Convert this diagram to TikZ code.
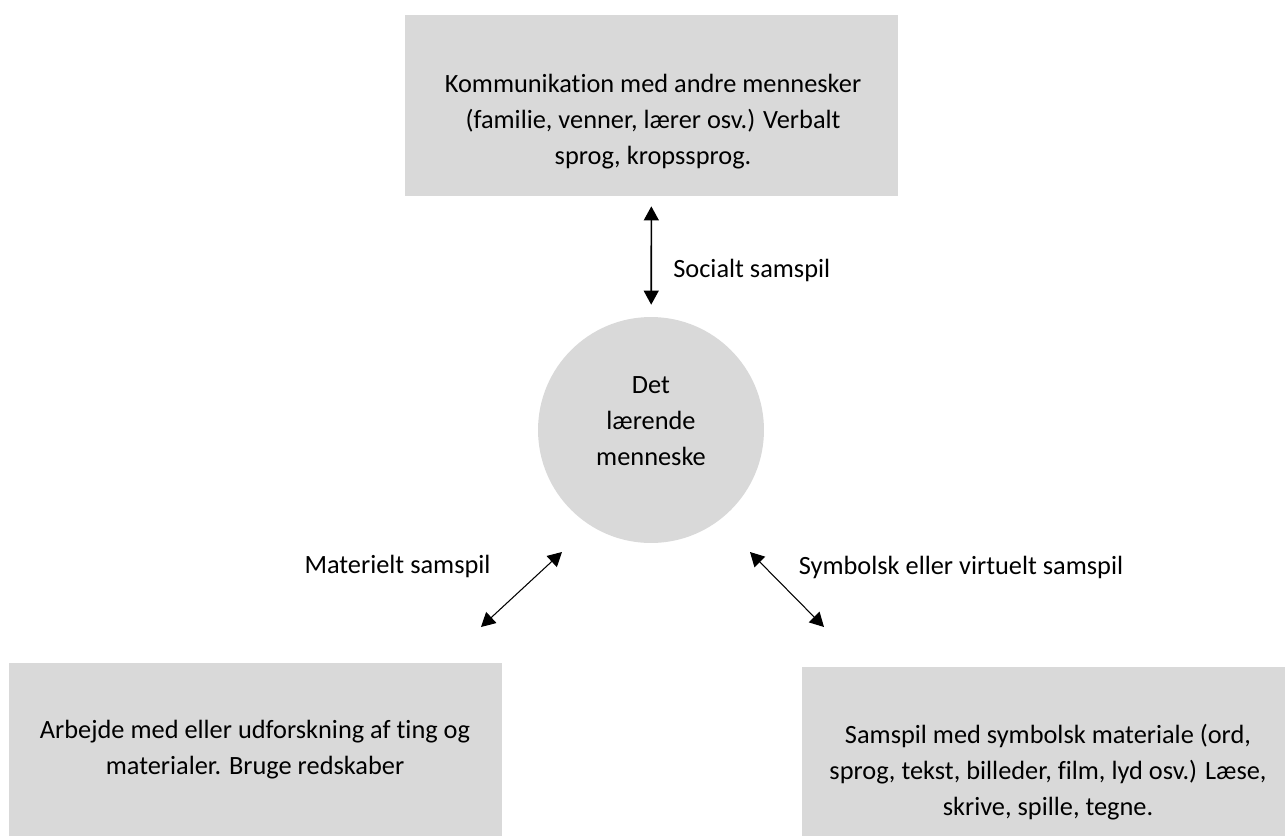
\documentclass[tikz,border=0pt]{standalone}
\usepackage{fontspec}
\setmainfont{Carlito}[Ligatures=CommonOff]
\usepackage{xcolor}
\usetikzlibrary{arrows.meta, positioning}
\definecolor{boxgray}{HTML}{D9D9D9}

\begin{document}
\begin{tikzpicture}[
    x=0.02cm, y=-0.02cm,
    font=\fontsize{15pt}{20.5pt}\selectfont,
    box/.style={fill=boxgray, inner sep=0pt, minimum width=9.86cm},
    txt/.style={align=center, inner sep=0pt},
    lbl/.style={inner sep=0pt},
    ball/.style={circle, fill=boxgray, minimum size=4.52cm, inner sep=0pt},
    arr/.style={{Triangle[length=8pt, width=8.5pt]}-{Triangle[length=8pt, width=8.5pt]}, line width=0.9pt},
    thinarr/.style={arr, line width=0.6pt},
  ]
    \useasboundingbox (0,0) rectangle (1285,836);

    % grey boxes and the circle
    \node[box, minimum height=3.62cm] (kom) at (651.5,105.5) {};
    \node[box, minimum height=3.46cm] (mat) at (255.5,749.5) {};
    \node[box, minimum height=3.38cm, minimum width=9.66cm] (sym) at (1043.5,751.5) {};
    \node[ball] (person) at (651,430) {};

    % texts
    \node[txt] (komtxt) at (653,122) {Kommunikation med andre mennesker\\(familie, venner, lærer osv.) Verbalt\\sprog, kropssprog.};
    \node[txt] (mattxt) at (255,750) {Arbejde med eller udforskning af ting og\\materialer. Bruge redskaber};
    \node[txt] (symtxt) at (1048,772.5) {Samspil med symbolsk materiale (ord,\\sprog, tekst, billeder, film, lyd osv.) Læse,\\skrive, spille, tegne.};
    \node[txt] (persontxt) at (651,421) {Det\\lærende\\menneske};

    % labels
    \node[lbl, anchor=west] (soclbl) at (673,270) {Socialt samspil};
    \node[lbl] (matlbl) at (397.5,566) {Materielt samspil};
    \node[lbl] (symlbl) at (961,567) {Symbolsk eller virtuelt samspil};

    % arrows
    \coordinate (m1) at (562,552);
    \coordinate (m2) at (481,627);
    \coordinate (s1) at (750,552);
    \coordinate (s2) at (824,627);
    \draw[arr, shorten <=0.2cm, shorten >=0.24cm] (kom) -- (person);
    \draw[thinarr] (m1) -- (m2);
    \draw[thinarr] (s1) -- (s2);
\end{tikzpicture}
\end{document}
